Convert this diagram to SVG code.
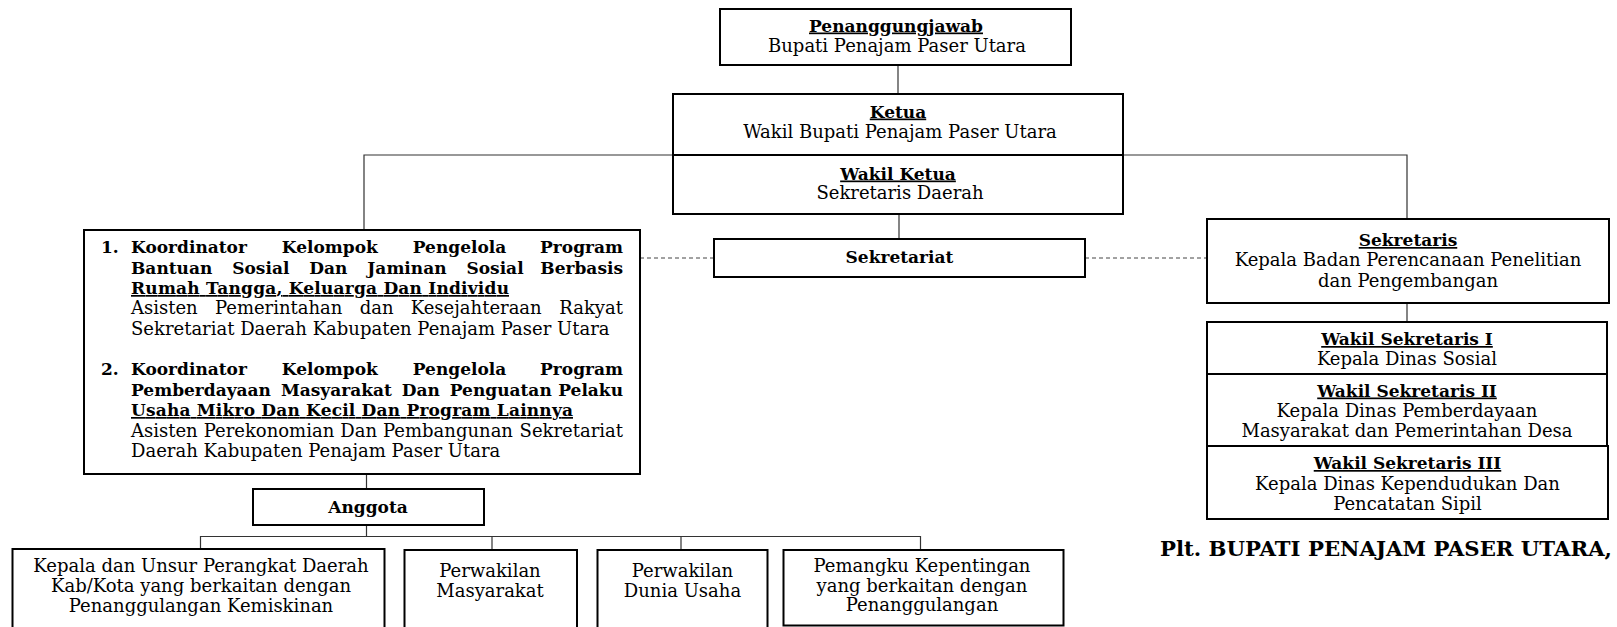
<svg xmlns="http://www.w3.org/2000/svg" width="1617" height="627" viewBox="0 0 1617 627">
<style>
text{font-family:"DejaVu Serif","Liberation Serif",serif;fill:#000}
.r{font-size:18px}
.b{font-size:17px;font-weight:bold}
.u{text-decoration:underline}
.c{text-anchor:middle}
.e{text-anchor:end}
.box{fill:#fff;stroke:#000;stroke-width:2}
.ln{fill:none;stroke:#333;stroke-width:1.2}
.dash{fill:none;stroke:#444;stroke-width:1;stroke-dasharray:4 3}
</style>
<rect width="1617" height="627" fill="#fff"/>
<g id="connectors">
<path class="ln" d="M898,65V94"/>
<path class="ln" d="M899,214V239"/>
<path class="ln" d="M364,230V155H1407V219"/>
<path class="ln" d="M1407,303V322"/>
<path class="dash" d="M640,258H714"/>
<path class="dash" d="M1085,258H1207"/>
<path class="ln" d="M366.5,474V489"/>
<path class="ln" d="M366.5,518V536.5"/>
<path class="ln" d="M200.5,549V536.5H920.5V550"/>
<path class="ln" d="M492,536.5V550"/>
<path class="ln" d="M681,536.5V550"/>
</g>
<g id="penanggungjawab">
<rect class="box" x="720" y="9" width="351" height="56"/>
<text class="b u c" x="896" y="31.5">Penanggungjawab</text>
<text class="r c" x="897" y="52.3">Bupati Penajam Paser Utara</text>
</g>
<g id="ketua">
<rect class="box" x="673" y="94" width="450" height="61"/>
<text class="b u c" x="898" y="117.5">Ketua</text>
<text class="r c" x="900" y="137.5">Wakil Bupati Penajam Paser Utara</text>
</g>
<g id="wakil-ketua">
<rect class="box" x="673" y="155" width="450" height="59"/>
<text class="b u c" x="898" y="179.5">Wakil Ketua</text>
<text class="r c" x="900" y="199">Sekretaris Daerah</text>
</g>
<g id="sekretariat">
<rect class="box" x="714" y="239" width="371" height="38"/>
<text class="b c" x="899.5" y="262.5">Sekretariat</text>
</g>
<g id="koordinator">
<rect class="box" x="84" y="230" width="556" height="244"/>
<text class="b" x="101" y="253">1.</text>
<text class="b" x="131" y="253" word-spacing="29">Koordinator Kelompok Pengelola</text>
<text class="b e" x="623" y="253">Program</text>
<text class="b" x="131" y="273.5" word-spacing="14">Bantuan Sosial Dan Jaminan Sosial</text>
<text class="b e" x="623" y="273.5">Berbasis</text>
<text class="b u" x="131" y="294" textLength="378" lengthAdjust="spacing">Rumah Tangga, Keluarga Dan Individu</text>
<text class="r" x="131" y="314" word-spacing="11.5">Asisten Pemerintahan dan Kesejahteraan</text>
<text class="r e" x="623" y="314">Rakyat</text>
<text class="r" x="131" y="334.5">Sekretariat Daerah Kabupaten Penajam Paser Utara</text>
<text class="b" x="101" y="375">2.</text>
<text class="b" x="131" y="375" word-spacing="29">Koordinator Kelompok Pengelola</text>
<text class="b e" x="623" y="375">Program</text>
<text class="b" x="131" y="395.5" word-spacing="4">Pemberdayaan Masyarakat Dan Penguatan</text>
<text class="b e" x="623" y="395.5">Pelaku</text>
<text class="b u" x="131" y="416" textLength="442" lengthAdjust="spacing">Usaha Mikro Dan Kecil Dan Program Lainnya</text>
<text class="r" x="131" y="436.5" word-spacing="0.3">Asisten Perekonomian Dan Pembangunan</text>
<text class="r e" x="623" y="436.5">Sekretariat</text>
<text class="r" x="131" y="457">Daerah Kabupaten Penajam Paser Utara</text>
</g>
<g id="anggota">
<rect class="box" x="253" y="489" width="231" height="36"/>
<text class="b c" x="368" y="512.5">Anggota</text>
</g>
<g id="anggota-perangkat-daerah">
<rect class="box" x="12.5" y="549" width="372" height="100"/>
<text class="r c" x="201" y="571.5">Kepala dan Unsur Perangkat Daerah</text>
<text class="r c" x="201" y="591.5">Kab/Kota yang berkaitan dengan</text>
<text class="r c" x="201" y="611.5">Penanggulangan Kemiskinan</text>
</g>
<g id="anggota-masyarakat">
<rect class="box" x="404.5" y="550" width="172.5" height="100"/>
<text class="r c" x="490" y="577">Perwakilan</text>
<text class="r c" x="490" y="597">Masyarakat</text>
</g>
<g id="anggota-dunia-usaha">
<rect class="box" x="597.5" y="550" width="170" height="100"/>
<text class="r c" x="682.5" y="577">Perwakilan</text>
<text class="r c" x="682.5" y="597">Dunia Usaha</text>
</g>
<g id="anggota-pemangku">
<rect class="box" x="783.5" y="550" width="280" height="75.5"/>
<text class="r c" x="922" y="571.5">Pemangku Kepentingan</text>
<text class="r c" x="922" y="591.5">yang berkaitan dengan</text>
<text class="r c" x="922" y="611">Penanggulangan</text>
</g>
<g id="sekretaris">
<rect class="box" x="1207" y="219" width="402" height="84"/>
<text class="b u c" x="1408" y="246">Sekretaris</text>
<text class="r c" x="1408" y="266">Kepala Badan Perencanaan Penelitian</text>
<text class="r c" x="1408" y="286.5">dan Pengembangan</text>
</g>
<g id="wakil-sekretaris-1">
<rect class="box" x="1207" y="322" width="400" height="52"/>
<text class="b u c" x="1407" y="345">Wakil Sekretaris I</text>
<text class="r c" x="1407" y="364.5">Kepala Dinas Sosial</text>
</g>
<g id="wakil-sekretaris-2">
<rect class="box" x="1207" y="374" width="400" height="72"/>
<text class="b u c" x="1407" y="396.5">Wakil Sekretaris II</text>
<text class="r c" x="1407" y="417">Kepala Dinas Pemberdayaan</text>
<text class="r c" x="1407" y="436.5">Masyarakat dan Pemerintahan Desa</text>
</g>
<g id="wakil-sekretaris-3">
<rect class="box" x="1207" y="446" width="401" height="73"/>
<text class="b u c" x="1407.5" y="469">Wakil Sekretaris III</text>
<text class="r c" x="1407.5" y="490">Kepala Dinas Kependudukan Dan</text>
<text class="r c" x="1407.5" y="510">Pencatatan Sipil</text>
</g>
<g id="signature">
<text class="b" x="1160" y="556" style="font-size:20px" textLength="452" lengthAdjust="spacingAndGlyphs">Plt. BUPATI PENAJAM PASER UTARA,</text>
</g>
</svg>
